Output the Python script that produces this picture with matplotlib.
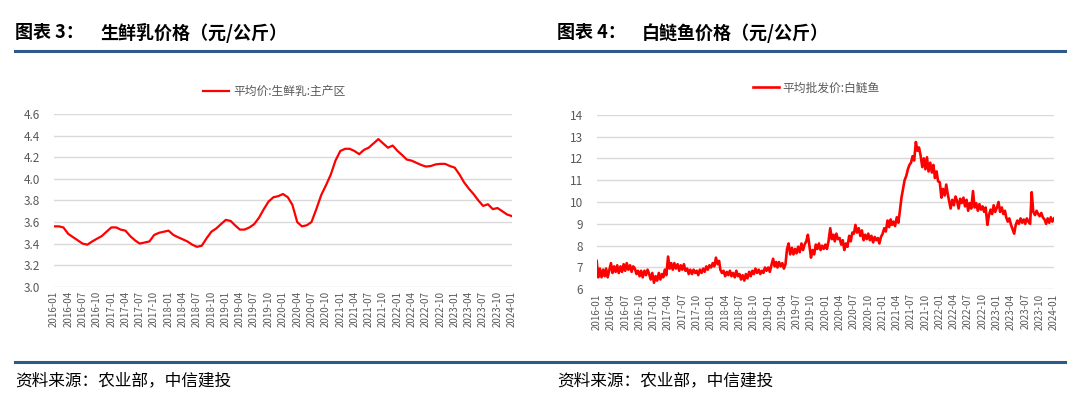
import matplotlib
matplotlib.use("Agg")
import matplotlib.pyplot as plt
import matplotlib.dates as mdates
import pandas as pd
import numpy as np

plt.rcParams['font.family'] = ['Noto Sans CJK SC', 'DejaVu Sans']

# 生鲜乳 monthly average price, 2016-01 .. 2024-01
milk_start = "2016-01-01"
milk_values = [
    3.56, 3.56, 3.55, 3.49, 3.46, 3.43, 3.40, 3.39, 3.42, 3.445, 3.47, 3.51,
    3.55, 3.55, 3.53, 3.52, 3.47, 3.43, 3.40, 3.41, 3.42, 3.48, 3.50, 3.51,
    3.52, 3.48, 3.46, 3.44, 3.42, 3.39, 3.37, 3.38, 3.45, 3.51, 3.54, 3.58,
    3.62, 3.61, 3.57, 3.53, 3.53, 3.55, 3.58, 3.64, 3.72, 3.79, 3.83, 3.84,
    3.86, 3.83, 3.76, 3.60, 3.56, 3.57, 3.60, 3.72, 3.85, 3.94, 4.04, 4.17,
    4.26, 4.28, 4.28, 4.26, 4.23, 4.27, 4.29, 4.33, 4.37, 4.33, 4.29, 4.31,
    4.26, 4.22, 4.18, 4.17, 4.15, 4.13, 4.115, 4.12, 4.135, 4.14, 4.14, 4.12,
    4.105, 4.04, 3.97, 3.91, 3.86, 3.80, 3.75, 3.765, 3.72, 3.73, 3.70, 3.67,
    3.655,
]

# 白鲢鱼 wholesale price, three readings per month (1st, 11th, 21st)
fish_2016 = [7.30, 6.55, 6.95, 6.55, 6.90, 6.60, 6.95, 6.55, 6.85, 7.20, 6.75, 7.05,
             6.80, 7.10, 6.75, 7.05, 6.80, 7.15, 6.85, 7.20, 6.90, 7.10, 6.80, 7.05,
             6.95, 6.70, 6.85, 6.60, 6.85, 6.55, 6.85, 6.65, 6.90, 6.70, 6.45, 6.75]
fish_2017 = [6.30, 6.60, 6.40, 6.75, 6.45, 6.70, 6.55, 6.90, 6.65, 7.50, 6.95, 7.20,
             6.90, 7.20, 6.95, 7.15, 6.85, 7.10, 6.90, 7.15, 6.85, 6.95, 6.70, 6.90,
             6.70, 6.90, 6.75, 6.85, 6.65, 6.90, 6.75, 6.95, 6.80, 7.05, 6.90, 7.10]
fish_2018 = [7.00, 7.20, 7.05, 7.45, 7.15, 7.30, 6.90, 6.75, 6.85, 6.60, 6.80, 6.65,
             6.85, 6.60, 6.75, 6.55, 6.85, 6.60, 6.70, 6.45, 6.65, 6.40, 6.70, 6.50,
             6.80, 6.60, 6.85, 6.70, 6.95, 6.75, 6.90, 6.70, 6.85, 6.75, 7.00, 6.85]
fish_2019 = [7.00, 6.80, 7.10, 7.40, 7.05, 7.25, 7.00, 7.25, 7.05, 7.20, 6.95, 7.15,
             7.85, 8.10, 7.60, 7.90, 7.60, 7.85, 7.65, 7.95, 7.70, 8.10, 7.80, 8.05,
             8.20, 8.50, 8.00, 7.45, 7.80, 7.60, 8.05, 7.85, 8.10, 7.80, 8.00, 7.85]
fish_2020 = [8.05, 7.85, 8.20, 8.80, 8.30, 8.50, 8.20, 8.55, 8.30, 8.35, 8.05, 8.25,
             7.80, 8.10, 7.95, 8.45, 8.20, 8.60, 8.55, 8.95, 8.60, 8.80, 8.45, 8.70,
             8.25, 8.50, 8.30, 8.55, 8.25, 8.45, 8.15, 8.40, 8.25, 8.35, 8.10, 8.40]
fish_2021 = [8.55, 8.80, 8.65, 9.15, 8.85, 9.20, 8.95, 9.10, 8.90, 9.30, 9.05, 9.60,
             10.20, 10.60, 11.00, 11.20, 11.50, 11.70, 11.80, 12.10, 11.90, 12.75, 12.35, 12.50,
             12.10, 11.60, 12.00, 11.50, 12.05, 11.40, 11.80, 11.35, 11.70, 11.10, 11.40, 10.95]
fish_2022 = [10.90, 10.20, 10.60, 10.30, 10.80, 10.35, 10.05, 9.70, 10.10, 9.85, 10.25, 10.05,
             9.70, 10.15, 9.95, 10.20, 9.80, 10.10, 9.60, 9.95, 9.70, 10.50, 9.75, 9.95,
             9.60, 9.90, 9.65, 9.80, 9.55, 9.75, 8.95, 9.40, 9.65, 9.45, 9.85, 9.55]
fish_2023 = [9.75, 10.00, 9.55, 9.75, 9.45, 9.60, 9.30, 9.10, 9.25, 8.95, 8.75, 8.55,
             8.95, 9.15, 9.00, 9.25, 9.05, 9.20, 9.00, 9.25, 9.10, 9.00, 10.45, 9.55,
             9.40, 9.60, 9.45, 9.35, 9.50, 9.30, 9.20, 9.00, 9.25, 9.05, 9.30, 9.10]
fish_2024 = [9.25]

milk_dates = pd.date_range(milk_start, periods=len(milk_values), freq="MS")
fish_values = fish_2016 + fish_2017 + fish_2018 + fish_2019 + fish_2020 + fish_2021 + fish_2022 + fish_2023 + fish_2024
fish_dates = []
for m in pd.date_range("2016-01-01", "2023-12-01", freq="MS"):
    for d in (0, 10, 20):
        fish_dates.append(m + pd.Timedelta(days=d))
fish_dates.append(pd.Timestamp("2024-01-01"))

grey = "#595959"
red = "#ff0000"
blue = "#2e5a8a"

fig = plt.figure(figsize=(10.8, 3.99), dpi=100)


def style_axes(ax, ymin, ymax, step, fmt):
    ax.set_xlim(pd.Timestamp("2016-01-01"), pd.Timestamp("2024-01-01"))
    ax.set_ylim(ymin, ymax)
    ax.set_yticks(np.arange(ymin, ymax + step / 2, step))
    ax.yaxis.set_major_formatter(plt.FormatStrFormatter(fmt))
    ax.xaxis.set_major_locator(mdates.MonthLocator(bymonth=[1, 4, 7, 10]))
    ax.xaxis.set_major_formatter(mdates.DateFormatter("%Y-%m"))
    for s in ax.spines.values():
        s.set_visible(False)
    ax.grid(axis="y", color="#d9d9d9", linewidth=1.0)
    ax.set_axisbelow(True)
    ax.tick_params(axis="both", length=0, colors=grey)
    ax.tick_params(axis="x", labelsize=7, rotation=90, pad=3)
    ax.tick_params(axis="y", labelsize=8.5, pad=10)


ax1 = fig.add_axes([0.05, 0.2815, 0.424, 0.432])
ax1.plot(milk_dates, milk_values, color=red, linewidth=1.6, label="平均价:生鲜乳:主产区")
style_axes(ax1, 3.0, 4.6, 0.2, "%.1f")
ax1.legend(loc="center", bbox_to_anchor=(0.481, 1.133), frameon=False,
           fontsize=8.5, labelcolor=grey, handlelength=2.2, handletextpad=0.3)

ax2 = fig.add_axes([0.5525, 0.2749, 0.4235, 0.4376])
ax2.plot(fish_dates, fish_values, color=red, linewidth=1.9, label="平均批发价:白鲢鱼")
style_axes(ax2, 6, 14, 1, "%d")
ax2.legend(loc="center", bbox_to_anchor=(0.48, 1.153), frameon=False,
           fontsize=8.5, labelcolor=grey, handlelength=2.2, handletextpad=0.3)

# header / footer
fig.text(15 / 1080, 1 - 33 / 399, "图表 3：", fontsize=13, fontweight="bold", va="center")
fig.text(100 / 1080, 1 - 33 / 399, "生鲜乳价格（元/公斤）", fontsize=13, fontweight="bold", va="center")
fig.text(557 / 1080, 1 - 33 / 399, "图表 4：", fontsize=13, fontweight="bold", va="center")
fig.text(642 / 1080, 1 - 33 / 399, "白鲢鱼价格（元/公斤）", fontsize=13, fontweight="bold", va="center")

fig.add_artist(plt.Line2D([15 / 1080, 1065 / 1080], [1 - 50.5 / 399] * 2, color=blue, linewidth=2.2))
fig.add_artist(plt.Line2D([15 / 1080, 1065 / 1080], [1 - 362 / 399] * 2, color=blue, linewidth=2.2))

fig.text(15 / 1080, 1 - 381 / 399, "资料来源：农业部，中信建投", fontsize=12, style="italic", va="center")
fig.text(557 / 1080, 1 - 381 / 399, "资料来源：农业部，中信建投", fontsize=12, style="italic", va="center")

fig.savefig("out.png", dpi=100)
